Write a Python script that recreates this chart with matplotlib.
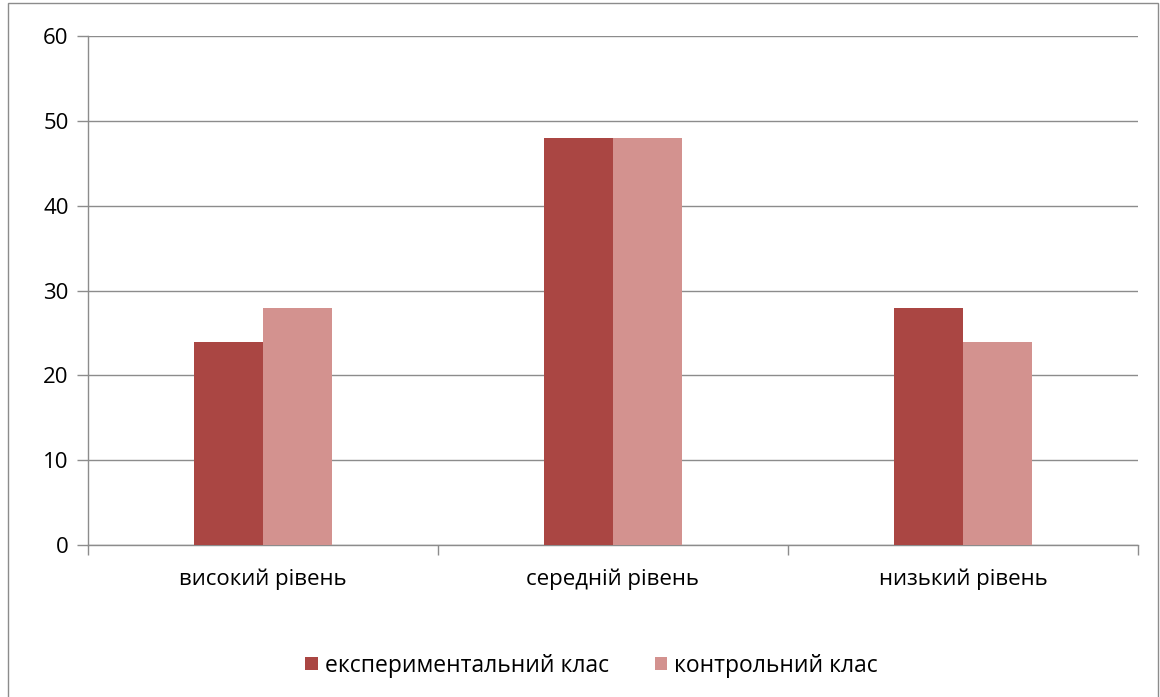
import matplotlib.pyplot as plt
import numpy as np
from matplotlib.patches import Rectangle

plt.rcParams["font.family"] = ["Open Sans", "DejaVu Sans"]

categories = ["високий рівень", "середній рівень", "низький рівень"]
series_names = ["експериментальний клас", "контрольний клас"]
experimental = [24, 48, 28]
control = [28, 48, 24]
colors = ["#AA4643", "#D3928F"]

fig = plt.figure(figsize=(11.6, 6.97), dpi=100)
ax = fig.add_axes([0.0759, 0.218, 0.905, 0.730])

x = np.arange(len(categories))
w = 0.197
ax.bar(x - w / 2, experimental, w, color=colors[0], label=series_names[0], zorder=3)
ax.bar(x + w / 2, control, w, color=colors[1], label=series_names[1], zorder=3)

ax.set_xlim(-0.5, len(categories) - 0.5)
ax.set_ylim(0, 60)
ax.set_yticks(range(0, 61, 10))
ax.yaxis.grid(True, color="#8c8c8c", linewidth=1, zorder=0)
ax.set_axisbelow(True)

ax.set_xticks(x)
ax.set_xticklabels(categories, fontsize=16)
ax.tick_params(axis="x", length=0, pad=17)
ax.set_xticks(np.arange(-0.5, len(categories)), minor=True)
ax.tick_params(axis="x", which="minor", length=7, color="#8c8c8c", width=1)
ax.tick_params(axis="y", length=8, color="#8c8c8c", width=1, labelsize=16, pad=6)

for s in ("top", "right"):
    ax.spines[s].set_visible(False)
for s in ("left", "bottom"):
    ax.spines[s].set_color("#8c8c8c")
    ax.spines[s].set_linewidth(1)

fig.legend(loc="center", bbox_to_anchor=(0.51, 0.045), ncol=2, frameon=False,
           fontsize=16.5, handlelength=0.55, handleheight=0.55, handletextpad=0.3,
           columnspacing=2.0)

fig.patches.append(Rectangle((0.007, -0.01), 0.991, 1.006, transform=fig.transFigure,
                             fill=False, edgecolor="#8c8c8c", linewidth=1))

fig.savefig("out.png", dpi=100)
